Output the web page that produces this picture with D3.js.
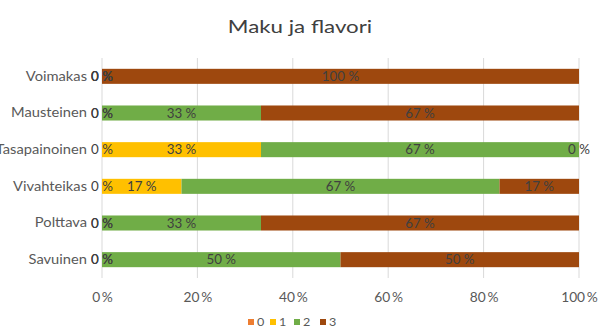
<!DOCTYPE html>
<html>
<head>
<meta charset="utf-8">
<script src="https://cdn.jsdelivr.net/npm/d3@7"></script>
<style>
  html, body { margin: 0; padding: 0; background: #fff; }
  svg { display: block; font-family: Lato, "Open Sans", sans-serif; }
</style>
</head>
<body>
<svg id="chart" width="599" height="336"></svg>
<script>
// Responses per taste attribute, split by rating 0–3 (shown as share of answers)
const categories = ["Voimakas", "Mausteinen", "Tasapainoinen", "Vivahteikas", "Polttava", "Savuinen"];
const seriesKeys = ["0", "1", "2", "3"];
const rating0 = [0, 0, 0, 0, 0, 0];
const rating1 = [0, 0, 2, 1, 0, 0];
const rating2 = [0, 2, 4, 4, 2, 3];
const rating3 = [6, 4, 0, 1, 4, 3];
const tickValues = [0, 0.2, 0.4, 0.6, 0.8, 1];
const seriesColors = ["#ED7D31", "#FFC000", "#70AD47", "#9E480E"];
const title = "Maku ja flavori";

const rows = categories.map((c, i) => ({
  cat: c, "0": rating0[i], "1": rating1[i], "2": rating2[i], "3": rating3[i]
}));

const stacked = d3.stack().keys(seriesKeys).offset(d3.stackOffsetExpand)(rows);

const svg = d3.select("#chart");
const x = d3.scaleLinear().domain([0, 1]).range([102, 579]);
const y = d3.scaleBand().domain(categories).range([58, 278]).paddingInner(0.59).paddingOuter(0.295);
const color = d3.scaleOrdinal().domain(seriesKeys).range(seriesColors);
const pct = d3.format(".0f");

// the chart's typeface is set wide; stretch glyphs horizontally
const wide = (px, py, sx) => `translate(${px},${py}) scale(${sx},1)`;

// title
svg.append("text")
  .attr("transform", wide(300, 33, 1.24))
  .attr("text-anchor", "middle")
  .attr("font-size", 18)
  .attr("fill", "#404040")
  .text(title);

// vertical gridlines
svg.append("g").selectAll("line")
  .data(tickValues)
  .join("line")
  .attr("x1", d => x(d)).attr("x2", d => x(d))
  .attr("y1", 58).attr("y2", 278)
  .attr("stroke", "#d9d9d9").attr("stroke-width", 1);

// x axis labels
const xAxis = d3.axisBottom(x).tickValues(tickValues).tickSize(0).tickPadding(0)
  .tickFormat(d => pct(d * 100) + "\u2009%");
const gx = svg.append("g").attr("transform", "translate(0,292.5)").call(xAxis);
gx.select(".domain").remove();
gx.selectAll("text").attr("font-size", 13).attr("fill", "#595959")
  .attr("font-family", "Lato, sans-serif")
  .attr("transform", "scale(1.06,1)");

// category labels
const yAxis = d3.axisLeft(y).tickSize(0).tickPadding(0);
const gy = svg.append("g").attr("transform", `translate(${x(0)},0)`).call(yAxis);
gy.select(".domain").remove();
gy.selectAll("text").attr("font-size", 14).attr("fill", "#595959")
  .attr("font-family", "Lato, sans-serif")
  .attr("x", 0)
  .attr("transform", wide(-15, 0, 1.05));

// stacked bars
const layers = svg.append("g").selectAll("g")
  .data(stacked)
  .join("g")
  .attr("fill", d => color(d.key));

layers.selectAll("rect")
  .data(d => d)
  .join("rect")
  .attr("x", d => x(d[0]))
  .attr("width", d => x(d[1]) - x(d[0]))
  .attr("y", d => y(d.data.cat))
  .attr("height", y.bandwidth());

// data labels centred on each segment
const labelLayers = svg.append("g").selectAll("g")
  .data(stacked)
  .join("g");

labelLayers.selectAll("text")
  .data(d => d.map(s => ({ s, key: d.key })))
  .join("text")
  .attr("transform", d => wide(x((d.s[0] + d.s[1]) / 2), y(d.s.data.cat) + y.bandwidth() / 2, 1.03))
  .attr("dy", "0.36em")
  .attr("text-anchor", "middle")
  .attr("font-size", 13)
  .attr("fill", "#404040")
  .text(d => pct((d.s[1] - d.s[0]) * 100) + " %");

// legend
const legendX = [248, 270, 294, 320];
const legend = svg.append("g").selectAll("g")
  .data(seriesKeys)
  .join("g")
  .attr("transform", (d, i) => `translate(${legendX[i]},319)`);
legend.append("rect").attr("width", 6).attr("height", 6).attr("fill", d => color(d));
legend.append("text")
  .attr("transform", wide(9, 3, 1.05))
  .attr("dy", "0.36em")
  .attr("font-size", 12).attr("fill", "#595959")
  .text(d => d);
</script>
</body>
</html>
